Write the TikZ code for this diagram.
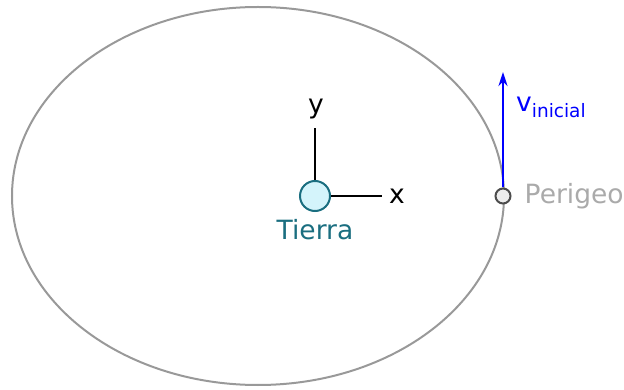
\documentclass[tikz,border=0pt]{standalone}
\usepackage{fontspec}
\setmainfont{DejaVu Sans}
\usepackage{xcolor}
\usepackage{tikz}
\usetikzlibrary{arrows.meta, positioning}

\definecolor{orbitgray}{HTML}{999999}
\definecolor{earthfill}{HTML}{D4F4FB}
\definecolor{earthteal}{HTML}{1A6E80}
\definecolor{perigray}{HTML}{AAAAAA}

\begin{document}
\begin{tikzpicture}[
        x=1pt, y=-1pt,
        >=Stealth,
        planet/.style={
            circle,
            draw=earthteal,
            fill=earthfill,
            line width=2pt,
            minimum size=30pt,
            inner sep=0pt
        },
        point/.style={
            circle,
            draw=black!70,
            fill=black!7,
            line width=2pt,
            minimum size=15pt,
            inner sep=0pt
        },
        label/.style={
            inner sep=0pt,
            font=\fontsize{26.5}{30}\selectfont
        }
    ]

    \useasboundingbox (0,0) rectangle (624,390);

    % Orbit
    \draw[orbitgray, line width=2pt] (258,196) ellipse [x radius=246, y radius=189];

    % Nodes
    \node[planet] (earth) at (315,196) {};
    \node[label, text=earthteal, below=7pt of earth] (tierra) {Tierra};
    \coordinate (ytip) at (315,128);
    \coordinate (xtip) at (382,196);
    \node[label, anchor=south] (ylabel) at (316,119) {y};
    \node[label, right=7pt of xtip] (xlabel) {x};

    \node[point] (perigee) at (503,196) {};
    \node[label, text=perigray, right=13pt of perigee] (perigeo) {Perigeo};
    \coordinate (vtip) at (503,72);
    \node[label, text=blue, anchor=west] (vlabel) at (516,107) {v\raisebox{-6pt}{\fontsize{18.5}{20}\selectfont inicial}};

    % Arrows
    \draw[line width=2.5pt] (earth) -- (ytip);
    \draw[line width=2.5pt] (earth) -- (xtip);
    \draw[-{Stealth[length=14pt, width=9pt]}, blue, line width=2.5pt] (perigee) -- (vtip);

    \end{tikzpicture}
\end{document}
